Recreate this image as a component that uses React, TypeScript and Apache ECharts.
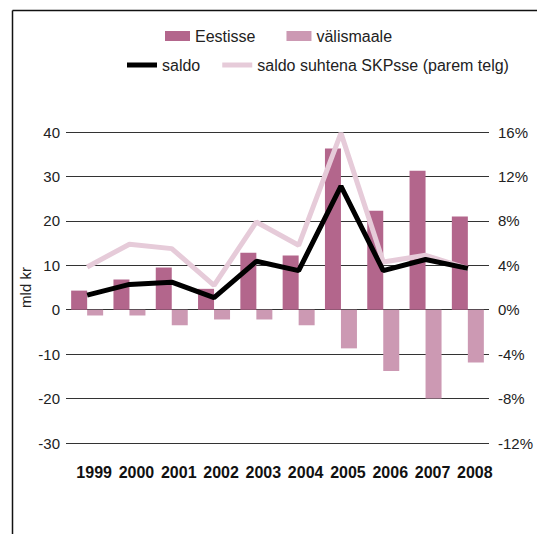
import React, { useEffect, useRef } from "react";
import * as echarts from "echarts";

const years = ["1999", "2000", "2001", "2002", "2003", "2004", "2005", "2006", "2007", "2008"];
const eestisse = [4.3, 6.8, 9.5, 4.7, 12.8, 12.2, 36.3, 22.3, 31.3, 21.0];
const valismaale = [-1.3, -1.3, -3.5, -2.2, -2.2, -3.5, -8.7, -13.8, -20.0, -11.9];
const saldo = [3.3, 5.7, 6.2, 2.7, 10.9, 8.8, 27.8, 8.8, 11.3, 9.3];
const saldoSkp = [3.85, 5.9, 5.5, 2.2, 7.9, 5.8, 15.9, 4.3, 4.9, 3.7];

const FONT = "'Liberation Sans', Arial, Helvetica, sans-serif";

export default function App() {
  const ref = useRef<HTMLDivElement>(null);
  useEffect(() => {
    if (!ref.current) return;
    const chart = echarts.init(ref.current, null, { renderer: "svg" });
    chart.setOption({
      animation: false,
      backgroundColor: "#ffffff",
      textStyle: { fontFamily: FONT },
      graphic: [
        { type: "line", shape: { x1: 12.5, y1: 10.5, x2: 537, y2: 10.5 }, style: { stroke: "#111", lineWidth: 1.5 } },
        { type: "line", shape: { x1: 12.5, y1: 10.5, x2: 12.5, y2: 534 }, style: { stroke: "#111", lineWidth: 1.5 } },
      ],
      legend: [
        {
          data: ["Eestisse", "välismaale"],
          left: 160,
          top: 23,
          itemWidth: 25,
          itemHeight: 10,
          itemGap: 31,
          icon: "rect",
          textStyle: { fontFamily: FONT, fontSize: 16, color: "#222" },
        },
        {
          data: ["saldo", "saldo suhtena SKPsse (parem telg)"],
          left: 122,
          top: 52,
          itemWidth: 30,
          itemHeight: 5,
          itemGap: 22,
          icon: "rect",
          textStyle: { fontFamily: FONT, fontSize: 16, color: "#222" },
        },
      ],
      grid: { left: 66, right: 48, top: 132, bottom: 91 },
      xAxis: {
        type: "category",
        data: years,
        axisLine: { show: false },
        axisTick: { show: false },
        axisLabel: {
          interval: 0,
          hideOverlap: false,
          fontFamily: FONT,
          fontSize: 16,
          fontWeight: "bold",
          color: "#111",
          margin: 21,
          padding: [0, 0, 0, 14],
        },
      },
      yAxis: [
        {
          type: "value",
          min: -30,
          max: 40,
          interval: 10,
          name: "mld kr",
          nameLocation: "middle",
          nameRotate: 90,
          nameGap: 33,
          nameMoveOverlap: false,
          nameTextStyle: { fontFamily: FONT, fontSize: 15, color: "#222" },
          axisLine: { show: false },
          axisTick: { show: false },
          axisLabel: { fontFamily: FONT, fontSize: 15, color: "#222", margin: 6 },
          splitLine: { lineStyle: { color: "#333", width: 1 } },
        },
        {
          type: "value",
          min: -12,
          max: 16,
          interval: 4,
          position: "right",
          axisLine: { show: false },
          axisTick: { show: false },
          axisLabel: { fontFamily: FONT, fontSize: 15, color: "#222", margin: 9, formatter: "{value}%" },
          splitLine: { show: false },
        },
      ],
      series: [
        {
          name: "Eestisse",
          type: "bar",
          data: eestisse,
          barWidth: 16,
          barGap: "0%",
          itemStyle: { color: "#b3668c" },
          z: 2,
        },
        {
          name: "välismaale",
          type: "bar",
          data: valismaale,
          barWidth: 16,
          barGap: "0%",
          itemStyle: { color: "#cc99b3" },
          z: 2,
        },
        {
          name: "saldo suhtena SKPsse (parem telg)",
          type: "line",
          yAxisIndex: 1,
          data: saldoSkp,
          symbol: "none",
          lineStyle: { color: "#e6cbd9", width: 5 },
          itemStyle: { color: "#e6cbd9" },
          z: 3,
        },
        {
          name: "saldo",
          type: "line",
          data: saldo,
          symbol: "none",
          lineStyle: { color: "#000000", width: 5 },
          itemStyle: { color: "#000000" },
          z: 4,
        },
      ],
    });
    return () => chart.dispose();
  }, []);
  return <div ref={ref} style={{ position: "fixed", left: 0, top: 0, width: 537, height: 534 }} />;
}
